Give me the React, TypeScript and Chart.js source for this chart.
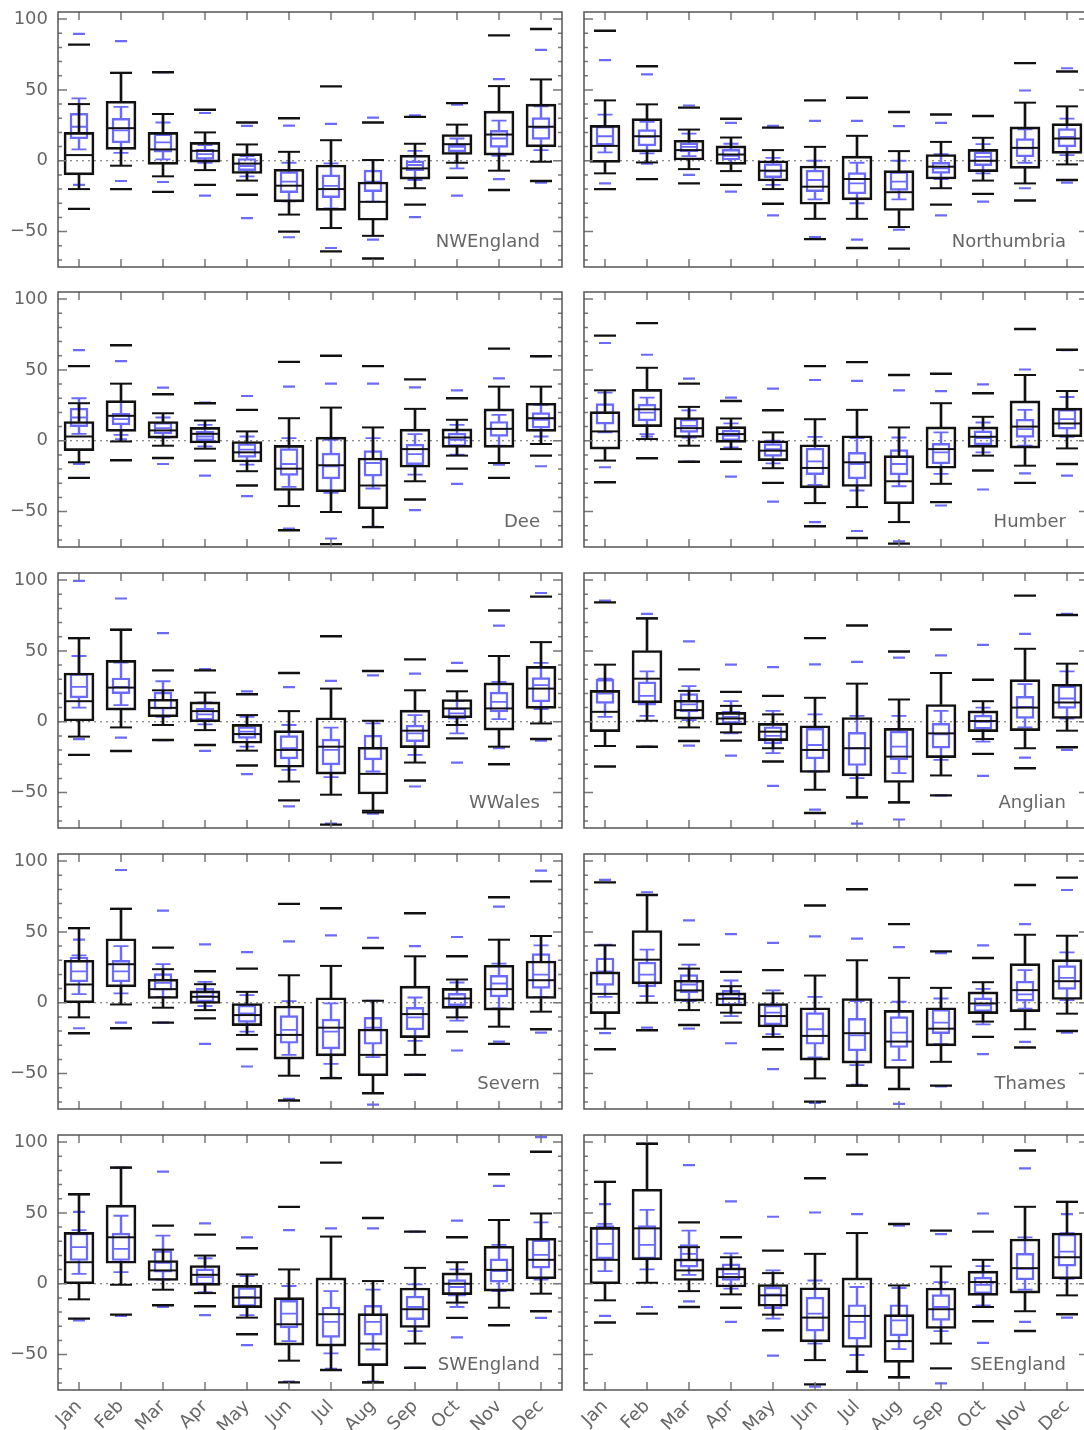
import React, { useEffect, useRef } from "react";
import { Chart, registerables } from "chart.js";

Chart.register(...registerables);

const months = ["Jan", "Feb", "Mar", "Apr", "May", "Jun", "Jul", "Aug", "Sep", "Oct", "Nov", "Dec"];
const yTicks = [-50, 0, 50, 100];
const regions = ["NWEngland", "Northumbria", "Dee", "Humber", "WWales", "Anglian", "Severn", "Thames", "SWEngland", "SEEngland"];

// each month: [lowest, whiskerLow, q1, median, q3, whiskerHigh, highest]
const nwEnglandBlack = [
  [-34, -20, -10, 4, 20, 40, 82], [-20, -3.5, 8, 23, 42, 62, 62], [-22, -11, -2.6, 8, 20, 33, 62.5],
  [-17, -6.6, -1, 7, 13, 20, 36], [-24, -14, -9, -2, 5, 11.5, 27], [-50, -38, -29, -17.6, -6, 6.3, 30],
  [-64, -47.5, -35, -20, -3, 14.5, 52.5], [-69, -53, -42, -29, -15, 0.5, 27], [-31, -19.4, -13, -5.4, 4, 12, 31],
  [-12, -1.4, 4.4, 11.7, 18.5, 25.5, 40.7], [-20.6, -7, 4, 18.5, 35, 52.7, 88.5], [-14.3, -0.7, 9.8, 24, 40, 57.4, 93],
];
const nwEnglandBlue = [
  [-17, 8, 15.5, 24, 33.5, 44, 89.5], [-14.3, 5.6, 12.6, 21.5, 30, 38, 84.5], [-15, 1, 6, 13, 19, 27, 62.5],
  [-24.6, -1.4, 1, 4.7, 8, 11, 33.7], [-40.5, -11, -7, -3.7, 1.6, 3.3, 24.6], [-54, -28.6, -22.5, -14.8, -7.7, -1.4, 24.8],
  [-61.6, -33.7, -26, -17.8, -10, -1.9, 26], [-55.7, -28.8, -21.8, -14.8, -6.6, 0.5, 30.4], [-39.8, -13.6, -7, -3, 0, 7, 32],
  [-24.6, -5.4, 6.3, 9.8, 12, 15.7, 39.6], [-12.9, 3.5, 9.4, 15.7, 21.5, 28.3, 57.6], [-15.5, 7.5, 15, 23.2, 30.4, 38.4, 78.2],
];
const northumbriaBlack = [
  [-20, -8.9, -1.2, 10.5, 25, 42.6, 91.8], [-13, -1.2, 6.3, 17.3, 29.7, 39.8, 66.7], [-16, -5.9, 0.5, 7.5, 14.5, 22, 37.5],
  [-17, -7.3, -2.6, 4.4, 10.5, 16.4, 29.7], [-30.4, -20, -14.3, -7, 0, 7.5, 23.4], [-55.3, -41, -30.7, -18.3, -3.7, 9.8, 42.6],
  [-61.6, -41, -27.6, -12.9, 3.3, 17.6, 44.5], [-62, -46.8, -35.1, -22.2, -7, 6.8, 34.4], [-31, -19.4, -12.9, -4.2, 4.4, 13.3, 32.6],
  [-23.4, -14, -7.7, 0, 8, 16.2, 31.6], [-28.1, -16, -5.4, 9.1, 23.9, 41, 68.9], [-13.6, -2.6, 5.2, 15.7, 26.2, 38.4, 63],
];
const northumbriaBlue = [
  [-16, 5.9, 11, 17.3, 24.4, 32.6, 71], [-2, 5.2, 10.5, 16.9, 22, 27.4, 61], [-10, 3.3, 6.3, 9.8, 12.6, 19.2, 39],
  [-21.8, -1.9, 0.5, 3.5, 8, 12, 26.7], [-38.6, -17, -12, -7.5, -2, 2, 24.6], [-53.9, -27.2, -21.8, -13.6, -6.6, 0, 28.1],
  [-55.7, -30, -23.4, -15.9, -8.4, -1.4, 28.1], [-48.7, -27.2, -21, -14.8, -7.7, 0, 24.4], [-38.6, -13, -8.9, -5.4, -1.2, 4.7, 26.7],
  [-28.8, -8.9, -3.5, 2.8, 6.3, 11.7, 31.6], [-19.4, -1.4, 2.8, 8.7, 15.7, 22.2, 49.6], [-15.5, 4, 9.8, 16.9, 22.7, 29.7, 65.3],
];
const deeBlack = [
  [-26.2, -15.2, -7, 3, 13.6, 26.5, 52.7], [-13.8, -0.5, 6.6, 17.6, 28.3, 40.3, 67.4], [-12.2, -3.5, 1.9, 7.3, 13.6, 19.4, 32.8],
  [-14, -5.6, -1.6, 4.9, 9.4, 14.3, 26.5], [-31.6, -21.5, -15, -8.2, -0.5, 6.6, 21.8], [-63.2, -46.1, -35.1, -19.7, -3.3, 15.9, 55.7],
  [-73, -50.3, -36, -17.3, 2.6, 23.4, 60], [-61, -60.9, -48, -31.6, -12.2, 9.4, 52.7], [-41.5, -28.6, -18.7, -5.9, 8.2, 22.5, 43.3],
  [-19.7, -10.5, -4.7, 2.3, 8.4, 14.8, 30], [-26.2, -15.7, -4.7, 8.4, 22.5, 38.2, 65], [-10.5, -2.3, 6.6, 15.9, 26.5, 38.2, 59.7],
];
const deeBlue = [
  [-16.4, 4.9, 10, 16.4, 23, 30, 64], [1, 4.2, 11.2, 15.2, 19.4, 27.2, 56.2], [-16.4, 2.3, 4.9, 8.9, 12.9, 16.4, 37.5],
  [-24.6, -4, 0, 3, 6.6, 11.2, 27], [-39.1, -16.9, -11.7, -6.3, -2.1, 3, 31.6], [-62, -32.6, -24.4, -16.4, -5.6, 1.9, 38.2],
  [-69, -36.8, -26.9, -18, -8.7, 0.7, 40.3], [-60.7, -33.7, -25, -15.7, -7, 1.9, 40.3], [-49, -23.9, -16.9, -9.4, -2.3, 4.7, 37.7],
  [-30.4, -9.8, -4, 0.7, 5.4, 11.2, 35.6], [-16.9, -3.5, 3, 8.4, 13.6, 18.3, 44], [-18, 3, 8.9, 14.8, 19.9, 25.3, 59.7],
];
const humberBlack = [
  [-29.3, -14, -5.9, 6.6, 20.6, 35.6, 74.2], [-12.4, 1.2, 10, 22.2, 36.3, 51.5, 83], [-14.8, -3.5, 2.3, 8.9, 16.4, 23.9, 40.3],
  [-14.8, -5.9, -1.2, 4.7, 10, 15.7, 28.1], [-29.7, -19.4, -14, -7, 0, 5.9, 21.5], [-60.4, -44, -33.3, -19.2, -2.8, 15.2, 52.7],
  [-68.6, -46.8, -32.3, -15.2, 3.5, 21.8, 55.5], [-72.6, -57.4, -44.5, -28.6, -10.5, 9.4, 46.4], [-43.3, -30.4, -19.4, -5.9, 9.8, 26.5, 47.3],
  [-21, -10.5, -4.7, 2.8, 9.8, 16.9, 33.5], [-29.7, -17.6, -5.2, 10, 28.1, 46.4, 78.9], [-16.4, -5.4, 2.8, 12.2, 23, 35.1, 64.2],
];
const humberBlue = [
  [-18.7, 5.9, 11.7, 19.9, 26.2, 34, 69], [3, 4.7, 14, 19.9, 25.8, 30.4, 60.7], [-14.8, 2.3, 5.9, 10.5, 15.2, 21.5, 43.8],
  [-25.3, -4.7, 0, 3.5, 7.5, 12.2, 30.4], [-42.9, -16, -11, -6, -2, 0, 36.8], [-57.4, -31.1, -23.9, -14.5, -5.2, 2.8, 42.9],
  [-63.7, -35.1, -26.9, -16.4, -8.2, 1.9, 42.2], [-71, -32.1, -24.1, -16.4, -6.3, 2.3, 35.6], [-45.7, -23.4, -16.4, -8.2, -1.9, 5.9, 35.1],
  [-34.4, -8.2, -3, 1.9, 7, 12.9, 39.8], [-23, -3.5, 2.3, 8.2, 15.2, 21.8, 50.3], [-24.6, 2.8, 8.2, 15.2, 22.2, 30.9, 63.9],
];
const wWalesBlack = [
  [-23.4, -10.5, 0.5, 14.5, 34.4, 59, 59], [-20.6, -4, 8.2, 24.1, 43.3, 64.9, 64.9], [-12.9, -2.3, 3.5, 9.8, 15.9, 22.2, 36.3],
  [-16.4, -5.9, 0, 7.5, 14, 20.6, 36.3], [-30.9, -20.4, -15.2, -8.7, -1.9, 4.7, 19.4], [-55.5, -42.2, -32.1, -19.9, -6.3, 7.5, 34.4],
  [-72.6, -51.5, -37, -17.6, 2.8, 23.4, 60.4], [-64, -62.8, -51, -36.8, -18, 0.7, 35.8], [-41.5, -28.8, -18.3, -6.3, 8.2, 22.2, 44],
  [-11.7, -2.3, 2.8, 9.4, 15.7, 21.5, 35.8], [-30, -17.6, -5.9, 9.4, 27.4, 46.4, 78.5], [-12.2, -1.2, 9.4, 23.4, 39.1, 56.2, 88.3],
];
const wWalesBlue = [
  [-12.2, 10, 16.9, 24.6, 34, 46.4, 99.5], [-11.2, 11.7, 19.9, 24.6, 30.9, 41.7, 87], [-12.9, 3.5, 8.9, 15.2, 21, 28.6, 62.5],
  [-20.6, -1.9, 1.2, 5.2, 9.4, 13.6, 37.2], [-37, -17.6, -11.7, -7, -3.5, 3.5, 21.5], [-59.7, -34, -26.2, -18.7, -9.8, -2.3, 24.4],
  [-71.9, -39.1, -30.4, -19.9, -12.2, -4.2, 28.8], [-64.9, -35.1, -26.9, -18.7, -9.4, -1.2, 32.8], [-45.7, -23.4, -14, -8.2, -2.3, 4.7, 34],
  [-28.8, -8.2, 1.9, 5.9, 9.8, 14.5, 41.5], [-18.7, 1.9, 7, 14, 21, 28.1, 67.9], [-13.3, 8.9, 14, 25.8, 31.1, 41.5, 90.9],
];
const anglianBlack = [
  [-31.6, -17.1, -7, 7, 22.2, 40.3, 84.3], [-17.6, 0.7, 13.3, 30.4, 50.3, 73, 73], [-13.6, -4, 1.9, 8.2, 15.2, 21.8, 37],
  [-13.3, -7.5, -2.3, 2.3, 6.6, 11.2, 21.1], [-28.1, -18.7, -13.3, -7, -1.2, 5.2, 18.3], [-64.4, -48, -35.8, -19.9, -2.8, 16.9, 59],
  [-53.4, -53.4, -38.2, -18.7, 3, 26.9, 67.9], [-56.9, -56.9, -42.9, -24.6, -4.7, 15.7, 49.6], [-52, -37.9, -25.3, -8.2, 12.2, 34.4, 65.1],
  [-22.7, -12.2, -7, 0.5, 7.7, 14.5, 29.7], [-32.8, -18.7, -6.3, 10, 29.7, 51.5, 89], [-18, -6.3, 2.3, 13.6, 26.5, 41, 75.4],
];
const anglianBlue = [
  [-17.1, 3.5, 12.9, 19.9, 30, 30.4, 85.5], [-17.6, 4.2, 11.7, 18.3, 28.1, 35.6, 76.1], [-16.9, 1.2, 7, 12.2, 19.9, 25.1, 56.7],
  [-23.9, -8.2, -1.2, 3.5, 7.5, 14.5, 40.3], [-45.2, -22.2, -15.7, -10, -3.5, 7.7, 38.6], [-62, -35.1, -26.2, -16.4, -4.7, 5.2, 40.5],
  [-71.9, -39.8, -30.9, -18.7, -7.5, 4.2, 42.2], [-69, -36.3, -26.9, -17.6, -6.6, 4.2, 45.2], [-52, -26.9, -18.7, -8.9, -1.2, 7.7, 46.8],
  [-38.2, -14, -5.2, 0, 4.7, 10, 54.3], [-25.3, -4, 2.3, 10.5, 18, 26.5, 62], [-19.9, 2.3, 9.4, 16.4, 25.3, 35.6, 76.1],
];
const severnBlack = [
  [-21.5, -10.3, 0, 12.9, 30, 52.7, 52.7], [-18, -1.2, 11.2, 27.2, 45.2, 66.3, 66.3], [-14, -3.5, 3, 9.6, 16.6, 23.7, 38.9],
  [-11, -5.2, -0.5, 4.2, 8.4, 13.1, 22.2], [-32.6, -22.7, -16.2, -8.7, -0.5, 7.7, 24.1], [-69, -51.5, -39.8, -22.7, -2.3, 19.4, 69.8],
  [-53.2, -53.2, -37.5, -17.6, 3.5, 26, 66.7], [-64, -63.7, -51.5, -36.8, -18.5, 1.4, 38.6], [-50.8, -36.8, -24.6, -8, 11.7, 32.8, 63.2],
  [-20.4, -10.3, -4, 3, 10.1, 16.4, 32.8], [-29, -16.9, -5.2, 9.6, 26.5, 44.5, 74.5], [-18.7, -6.3, 3, 15.9, 29.5, 47.1, 85.7],
];
const severnBlue = [
  [-18, 6.1, 14.8, 22.2, 32.3, 33.5, 44.5], [-14, 6.6, 14.8, 22.2, 30, 40, 93.7], [-14, 4.2, 8.9, 14, 20.6, 27.2, 65.1],
  [-29, -2.3, 0.7, 4.7, 10.1, 14.8, 41.2], [-45, -20.4, -13.8, -7.5, -1.6, 5.4, 35.8], [-67.9, -36.8, -28.6, -19.2, -9.1, 1.2, 43.3],
  [-53, -43.1, -32.6, -20.4, -11.5, -0.5, 47.5], [-71.9, -38.4, -29.3, -17.6, -10.3, 1.4, 45.9], [-50.8, -26.9, -19.2, -10.3, -3.3, 3.7, 40],
  [-33.7, -12.6, -2.1, 2.6, 6.6, 14.3, 46.4], [-27.4, -4, 4.2, 13.6, 19.4, 27.6, 67.9], [-21.1, 4.2, 10.1, 19.9, 34.7, 40.5, 93.2],
];
const thamesBlack = [
  [-32.8, -18.3, -7.7, 6.3, 21.8, 40.5, 85], [-19.4, 0, 13.3, 30.4, 51, 76.1, 76.1], [-15.7, -5.2, 1.2, 8.7, 15.9, 24.1, 41],
  [-14, -7, -2.3, 2.8, 7, 11.7, 21.8], [-32.8, -24.1, -17.1, -9.4, -0.5, 6.6, 23], [-69.8, -53.4, -40.5, -23.4, -3.5, 19.2, 68.6],
  [-58.5, -58.5, -42.6, -21.5, 3, 30, 80.1], [-60.9, -60.9, -46.4, -27.4, -5.4, 17.6, 55.5], [-58.5, -41.7, -30.4, -18.3, -3.5, 10.5, 36.3],
  [-24.1, -13.3, -7.7, -0.5, 7.7, 14.5, 31.6], [-31.6, -18.7, -6.3, 8.9, 27.6, 48, 83.1], [-19.9, -7.7, 2.3, 15.2, 30.4, 47.3, 88.3],
];
const thamesBlue = [
  [-21.5, 4.2, 12.2, 22.2, 31.6, 41, 86.7], [-17.6, 4.7, 11.2, 19.9, 28.6, 37.5, 78], [-18.3, 1.2, 7, 12.9, 19.9, 26.9, 58.1],
  [-28.6, -9.4, -1.9, 3.5, 8.7, 15.7, 48.5], [-46.8, -22.2, -15.7, -7, -1.6, 8.7, 42.2], [-70.7, -38.6, -29.3, -18.7, -7, 4.2, 46.8],
  [-58, -44, -34, -23, -11, 1.2, 45.2], [-71.4, -40.5, -31.6, -21.1, -9.8, 0.7, 39.3], [-59, -29.3, -21.8, -14, -4.7, 3, 35.1],
  [-36.3, -15.2, -6.3, -1.9, 3.5, 9.8, 40.5], [-27.6, -4.2, 1.2, 5.9, 15.2, 23, 55.5], [-21.1, 1.9, 9.4, 17.6, 26.2, 35.6, 79.6],
];
const swEnglandBlack = [
  [-24.6, -11, 0, 15.2, 36.3, 63.2, 63.2], [-21.8, -0.7, 14.5, 32.8, 55.5, 82, 82], [-15.2, -4.2, 2.3, 9.4, 16.4, 24.1, 41],
  [-15.9, -6.6, -1.2, 6.3, 12.9, 19.9, 34.7], [-35.6, -23.9, -16.9, -9.8, -1.2, 6.6, 25.1], [-69.6, -54.3, -43.3, -28.6, -9.8, 10.1, 54.3],
  [-60.9, -60.9, -44, -21.5, 4.2, 33.3, 85.5], [-69.6, -69.6, -57.8, -42.2, -21.1, 1.9, 46.4], [-59.3, -42.2, -30.9, -18, -3, 11.2, 36.8],
  [-24.1, -13.3, -7.7, 0, 7.7, 15.2, 32.8], [-29.3, -16.9, -5.2, 9.8, 26.5, 45, 77.3], [-19.4, -7, 3.5, 16.9, 32.1, 49.6, 93.2],
];
const swEnglandBlue = [
  [-25.8, 7, 16.4, 25.8, 35.8, 37.9, 50.8], [-22.7, 8.2, 16.4, 24.6, 35.8, 48, 82], [-16.4, 3, 8.2, 14.8, 23.4, 34, 79.2],
  [-22.2, -5.9, -0.7, 4.7, 10.5, 18, 42.6], [-43.3, -22.2, -15.9, -9.4, -2.8, 5.4, 32.8], [-69.1, -40.5, -31.1, -21.1, -11.7, -1.6, 37.9],
  [-60, -49.2, -37.9, -26.9, -16.4, -5.2, 39.1], [-69, -46.4, -36.3, -26.9, -15.2, -4.2, 39.1], [-59.3, -33.5, -25.3, -16.4, -8.7, -0.5, 36.8],
  [-37.9, -16.4, -8.7, -2.3, 3, 10.1, 44.5], [-29.3, -5.2, 1.2, 8.9, 17.6, 27.4, 69.1], [-24.1, 3, 11, 20.4, 30.9, 43.3, 103.5],
];
const seEnglandBlack = [
  [-27.4, -11.7, 0, 16.9, 39.8, 71.9, 71.9], [-21.1, 0.7, 16.9, 39.1, 66.7, 98.8, 98.8], [-16.4, -5.2, 2.3, 9.4, 17.6, 25.8, 43.3],
  [-16.9, -7.5, -2.3, 4.7, 11.2, 18.7, 32.8], [-32.8, -21.8, -15.9, -8.2, -0.5, 7.5, 23.4], [-71, -53.9, -41, -23.9, -2.8, 21.1, 74.5],
  [-62.1, -62.1, -45, -22.7, 4.2, 35.8, 91.3], [-66, -66, -55.5, -40.5, -21.8, -1.2, 42.2], [-59.7, -42.2, -31.6, -18, -3, 12.2, 37.5],
  [-26.5, -16.4, -8.2, 1.2, 8.9, 16.9, 36.8], [-33.3, -19.4, -6.6, 11, 31.6, 54.3, 94.1], [-21.5, -8.2, 3.5, 18.7, 35.8, 57.8, 57.8],
];
const seEnglandBlue = [
  [-22.7, 8.9, 17.6, 28.1, 41, 42.2, 56.2], [-16.4, 10.1, 17.6, 27.4, 41, 52.2, 98.8], [-12.4, 6.3, 11.7, 21.1, 27.6, 37.5, 83.8],
  [-26.9, -3.5, 2.3, 7, 14, 21.5, 58.1], [-50.8, -24.6, -17.6, -7.5, -2.3, 9.4, 47.3], [-72.6, -42.2, -33.5, -21.1, -9.4, 2.3, 50.3],
  [-62, -50.3, -39.1, -26.9, -14.8, -2.3, 49.2], [-66, -46.1, -36.8, -25.8, -14.8, -3, 41], [-70.3, -33.5, -25.8, -16.4, -7.7, 1.2, 35.1],
  [-41.7, -15.2, -7, -0.7, 4.7, 12.4, 49.6], [-26.9, -4.2, 2.8, 10.5, 21.5, 32.8, 81.5], [-23.9, 3.5, 12.4, 22.7, 35.1, 35.8, 49.2],
];

const panelSeries = [
  [nwEnglandBlack, nwEnglandBlue], [northumbriaBlack, northumbriaBlue],
  [deeBlack, deeBlue], [humberBlack, humberBlue],
  [wWalesBlack, wWalesBlue], [anglianBlack, anglianBlue],
  [severnBlack, severnBlue], [thamesBlack, thamesBlue],
  [swEnglandBlack, swEnglandBlue], [seEnglandBlack, seEnglandBlue],
];

// layout
const Y_MIN = -75;
const Y_MAX = 105;
const PLOT_W = 504;
const PLOT_H = 255;
const PAD_T = 26;
const PAD_R = 4;
const FRAME_LEFTS = [58, 584];
const FRAME_TOPS = [12, 292, 573, 854, 1135];
const FONT = '"DejaVu Sans", "Liberation Sans", sans-serif';
const BLACK = "#111111";
const BLUE = "#6a6aff";

type Stat = number[];

function seriesDatasets(stats: Stat[], color: string, s: { box: number; cap: number; ext: number; lw: number }, order: number) {
  const col = (i: number) => stats.map((r) => r[i]);
  const marks = (values: number[], len: number, lw: number) => ({
    type: "line" as const,
    data: values,
    showLine: false,
    pointStyle: "line",
    pointRadius: len / 2,
    pointHoverRadius: len / 2,
    pointBorderWidth: lw,
    pointBorderColor: color,
    pointBackgroundColor: color,
    borderColor: color,
    order,
  });
  return [
    {
      type: "bar" as const,
      data: stats.map((r) => [r[2], r[4]]),
      backgroundColor: "rgba(0,0,0,0)",
      borderColor: color,
      borderWidth: s.lw,
      borderSkipped: false,
      barThickness: s.box,
      grouped: false,
      order,
    },
    {
      type: "bar" as const,
      data: stats.map((r) => [r[1], r[2]]),
      backgroundColor: color,
      borderWidth: 0,
      barThickness: s.lw,
      grouped: false,
      order,
    },
    {
      type: "bar" as const,
      data: stats.map((r) => [r[4], r[5]]),
      backgroundColor: color,
      borderWidth: 0,
      barThickness: s.lw,
      grouped: false,
      order,
    },
    marks(col(3), s.box, s.lw),
    marks(col(1), s.cap, s.lw),
    marks(col(5), s.cap, s.lw),
    marks(col(0), s.ext, s.lw + 0.4),
    marks(col(6), s.ext, s.lw + 0.4),
  ];
}

function framePlugin(name: string) {
  return {
    id: "frame",
    beforeDatasetsDraw(chart: any) {
      const { ctx, chartArea: a, scales } = chart;
      const y0 = scales.y.getPixelForValue(0);
      ctx.save();
      ctx.strokeStyle = "#666";
      ctx.lineWidth = 1.2;
      ctx.setLineDash([2, 4]);
      ctx.beginPath();
      ctx.moveTo(a.left, y0);
      ctx.lineTo(a.right, y0);
      ctx.stroke();
      ctx.restore();
    },
    afterDatasetsDraw(chart: any) {
      const { ctx, chartArea: a, scales } = chart;
      const { x, y } = scales;
      ctx.save();
      ctx.strokeStyle = "#777";
      ctx.lineWidth = 1.5;
      ctx.beginPath();
      for (let v = -70; v <= 100; v += 10) {
        const py = y.getPixelForValue(v);
        const len = v % 50 === 0 ? 9 : 4;
        ctx.moveTo(a.left, py);
        ctx.lineTo(a.left + len, py);
        ctx.moveTo(a.right, py);
        ctx.lineTo(a.right - len, py);
      }
      for (let i = 0; i < months.length; i++) {
        const px = x.getPixelForValue(i);
        ctx.moveTo(px, a.top);
        ctx.lineTo(px, a.top + 8);
        ctx.moveTo(px, a.bottom);
        ctx.lineTo(px, a.bottom - 8);
      }
      ctx.stroke();
      ctx.strokeStyle = "#555";
      ctx.lineWidth = 1.5;
      ctx.strokeRect(a.left, a.top, a.right - a.left, a.bottom - a.top);
      ctx.fillStyle = "#666";
      ctx.font = `18px ${FONT}`;
      ctx.textAlign = "right";
      ctx.textBaseline = "alphabetic";
      ctx.fillText(name, a.right - 22, a.bottom - 20);
      ctx.restore();
    },
  };
}

function Panel(props: { index: number }) {
  const { index } = props;
  const ref = useRef<HTMLCanvasElement>(null);
  const col = index % 2;
  const row = Math.floor(index / 2);
  const isLeft = col === 0;
  const showX = row === FRAME_TOPS.length - 1;
  const yAxisW = isLeft ? 58 : 40;
  const xAxisH = showX ? 40 : 24;
  const W = yAxisW + PLOT_W + PAD_R;
  const H = PAD_T + PLOT_H + xAxisH;
  const left = FRAME_LEFTS[col] - yAxisW;
  const top = FRAME_TOPS[row] - PAD_T;
  const [black, blue] = panelSeries[index];

  useEffect(() => {
    const canvas = ref.current;
    if (!canvas) return;
    const chart = new Chart(canvas, {
      type: "bar",
      data: {
        labels: months,
        datasets: [
          ...seriesDatasets(black, BLACK, { box: 30, cap: 22, ext: 22, lw: 2 }, 1),
          ...seriesDatasets(blue, BLUE, { box: 18, cap: 15, ext: 12, lw: 1.8 }, 2),
        ] as any,
      },
      options: {
        animation: false,
        responsive: false,
        maintainAspectRatio: false,
        devicePixelRatio: 1,
        events: [],
        layout: { autoPadding: false, padding: { top: PAD_T, right: PAD_R, left: 0, bottom: 0 } },
        plugins: { legend: { display: false }, tooltip: { enabled: false } },
        scales: {
          x: {
            type: "category",
            offset: true,
            grid: { display: false, drawTicks: false },
            border: { display: false },
            ticks: {
              display: showX,
              autoSkip: false,
              minRotation: 45,
              maxRotation: 45,
              padding: 6,
              color: "#666",
              font: { size: 18, family: FONT },
            },
            afterFit: (s: any) => {
              s.height = xAxisH;
            },
          },
          y: {
            type: "linear",
            min: Y_MIN,
            max: Y_MAX,
            grid: { display: false, drawTicks: false },
            border: { display: false },
            afterBuildTicks: (s: any) => {
              s.ticks = yTicks.map((v) => ({ value: v }));
            },
            ticks: {
              display: isLeft,
              padding: 10,
              color: "#666",
              font: { size: 18, family: FONT },
              callback: (v: any) => (Number(v) < 0 ? "\u2212" + Math.abs(Number(v)) : String(v)),
            },
            afterFit: (s: any) => {
              s.width = yAxisW;
            },
          },
        },
      } as any,
      plugins: [framePlugin(regions[index])],
    });
    return () => chart.destroy();
  }, []);

  return (
    <canvas
      ref={ref}
      width={W}
      height={H}
      style={{ position: "absolute", left, top, width: W, height: H }}
    />
  );
}

export default function App() {
  return (
    <div
      style={{
        position: "absolute",
        left: 0,
        top: 0,
        width: 1084,
        height: 1430,
        overflow: "hidden",
        background: "#ffffff",
      }}
    >
      {regions.map((_, i) => (
        <Panel key={i} index={i} />
      ))}
    </div>
  );
}
